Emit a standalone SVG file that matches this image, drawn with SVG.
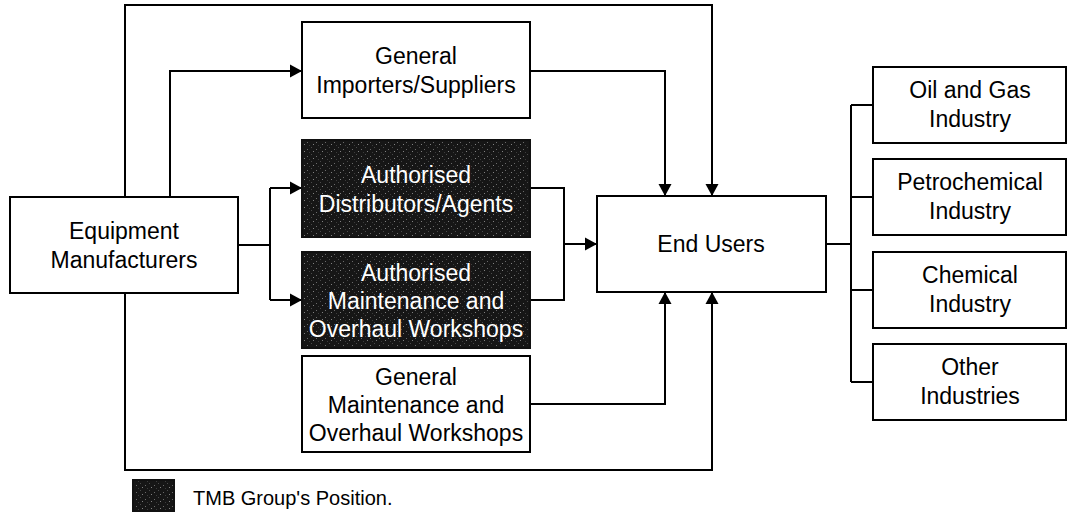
<svg xmlns="http://www.w3.org/2000/svg" width="1068" height="514" viewBox="0 0 1068 514">
<defs>
<pattern id="noise" width="9" height="7" patternUnits="userSpaceOnUse">
<rect width="9" height="7" fill="#161616"/>
<rect x="1" y="2" width="1" height="1" fill="#6a6a6a"/>
<rect x="5" y="0" width="1" height="1" fill="#4a4a4a"/>
<rect x="7" y="4" width="1" height="1" fill="#808080"/>
<rect x="3" y="5" width="1" height="1" fill="#3c3c3c"/>
</pattern>
<marker id="arr" markerUnits="userSpaceOnUse" markerWidth="14" markerHeight="14" refX="13" refY="7" orient="auto">
<path d="M1,0.5 L13,7 L1,13.5 Z" fill="#000"/>
</marker>
<style>
.box{fill:#fff;stroke:#000;stroke-width:2}
.dark{fill:url(#noise);stroke:#111;stroke-width:2}
.t{font-family:"Liberation Sans",Arial,sans-serif;font-size:23px;fill:#000;text-anchor:middle}
.w{fill:#fff}
.c{fill:none;stroke:#000;stroke-width:2}
.l{font-family:"Liberation Sans",Arial,sans-serif;font-size:20px;fill:#000}
</style>
</defs>
<rect width="1068" height="514" fill="#fff"/>

<g id="connectors">
<path class="c" d="M125,197 V5 H712 V196" marker-end="url(#arr)"/>
<path class="c" d="M170,197 V71 H302" marker-end="url(#arr)"/>
<path class="c" d="M530,71 H665 V196" marker-end="url(#arr)"/>
<path class="c" d="M238,245 H270"/>
<path class="c" d="M270,188 V300"/>
<path class="c" d="M270,188 H302" marker-end="url(#arr)"/>
<path class="c" d="M270,300 H302" marker-end="url(#arr)"/>
<path class="c" d="M530,188 H564 V300 H530"/>
<path class="c" d="M564,244 H597" marker-end="url(#arr)"/>
<path class="c" d="M530,404 H665 V292" marker-end="url(#arr)"/>
<path class="c" d="M125,293 V470 H712 V292" marker-end="url(#arr)"/>
<path class="c" d="M826,244 H851"/>
<path class="c" d="M851,105 V382"/>
<path class="c" d="M851,105 H873 M851,197 H873 M851,290 H873 M851,382 H873"/>
</g>

<g id="equipment-manufacturers">
<rect class="box" x="10" y="197" width="228" height="96"/>
<text class="t" x="124" y="239">Equipment</text>
<text class="t" x="124" y="268">Manufacturers</text>
</g>

<g id="general-importers">
<rect class="box" x="302" y="22" width="228" height="96"/>
<text class="t" x="416" y="64">General</text>
<text class="t" x="416" y="93">Importers/Suppliers</text>
</g>

<g id="authorised-distributors">
<rect class="dark" x="302" y="140" width="228" height="97"/>
<text class="t w" x="416" y="183">Authorised</text>
<text class="t w" x="416" y="212">Distributors/Agents</text>
</g>

<g id="authorised-maintenance">
<rect class="dark" x="302" y="252" width="228" height="96"/>
<text class="t w" x="416" y="281">Authorised</text>
<text class="t w" x="416" y="309">Maintenance and</text>
<text class="t w" x="416" y="337">Overhaul Workshops</text>
</g>

<g id="general-maintenance">
<rect class="box" x="302" y="356" width="228" height="96"/>
<text class="t" x="416" y="385">General</text>
<text class="t" x="416" y="413">Maintenance and</text>
<text class="t" x="416" y="441">Overhaul Workshops</text>
</g>

<g id="end-users">
<rect class="box" x="597" y="196" width="229" height="96"/>
<text class="t" x="711" y="252">End Users</text>
</g>

<g id="oil-gas">
<rect class="box" x="873" y="67" width="193" height="76"/>
<text class="t" x="970" y="98">Oil and Gas</text>
<text class="t" x="970" y="127">Industry</text>
</g>

<g id="petrochemical">
<rect class="box" x="873" y="159" width="193" height="76"/>
<text class="t" x="970" y="190">Petrochemical</text>
<text class="t" x="970" y="219">Industry</text>
</g>

<g id="chemical">
<rect class="box" x="873" y="252" width="193" height="76"/>
<text class="t" x="970" y="283">Chemical</text>
<text class="t" x="970" y="312">Industry</text>
</g>

<g id="other">
<rect class="box" x="873" y="344" width="193" height="76"/>
<text class="t" x="970" y="375">Other</text>
<text class="t" x="970" y="404">Industries</text>
</g>

<g id="legend">
<rect class="dark" x="133" y="480" width="41" height="31"/>
<text class="l" x="193" y="505">TMB Group's Position.</text>
</g>
</svg>
